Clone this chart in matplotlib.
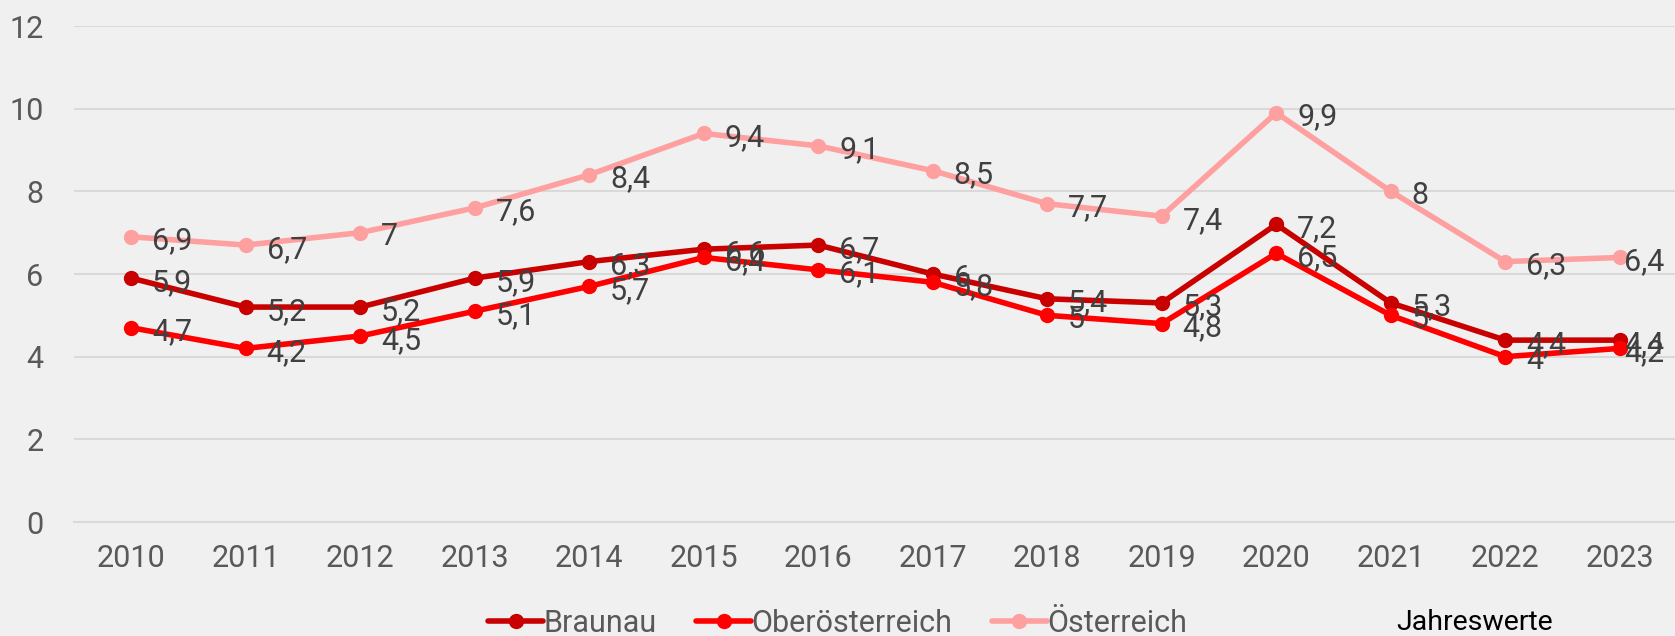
import matplotlib.pyplot as plt

# Daten
jahre = ['2010', '2011', '2012', '2013', '2014', '2015', '2016',
         '2017', '2018', '2019', '2020', '2021', '2022', '2023']
braunau = [5.9, 5.2, 5.2, 5.9, 6.3, 6.6, 6.7, 6.0, 5.4, 5.3, 7.2, 5.3, 4.4, 4.4]
ooe = [4.7, 4.2, 4.5, 5.1, 5.7, 6.4, 6.1, 5.8, 5.0, 4.8, 6.5, 5.0, 4.0, 4.2]
oesterreich = [6.9, 6.7, 7.0, 7.6, 8.4, 9.4, 9.1, 8.5, 7.7, 7.4, 9.9, 8.0, 6.3, 6.4]
serien = [('Braunau', braunau, '#C80000'),
          ('Oberösterreich', ooe, '#FF0000'),
          ('Österreich', oesterreich, '#FFA0A0')]
y_ticks = [0, 2, 4, 6, 8, 10, 12]

bg = '#F0F0F0'
plt.rcParams['font.family'] = ['Roboto', 'DejaVu Sans']


def fmt(v):
    s = f'{v:.1f}'.replace('.', ',')
    return s[:-2] if s.endswith(',0') else s


W, H = 1675, 636
fig = plt.figure(figsize=(W / 100, H / 100), dpi=100, facecolor=bg)
ax = fig.add_axes([74 / W, 1 - 522 / H, 1603 / W, (522 - 26) / H])
ax.set_facecolor(bg)

x = list(range(len(jahre)))
for name, vals, col in serien:
    ax.plot(x, vals, color=col, lw=4, marker='o', ms=10, label=name,
            solid_capstyle='round', zorder=3)
    for xi, v in zip(x, vals):
        # letzter Punkt: Beschriftung bleibt im Bild
        dx = 3 if xi == x[-1] else 15
        ax.annotate(fmt(v), (xi, v), xytext=(dx, -3), textcoords='offset points',
                    va='center', ha='left', fontsize=22, color='#404040', zorder=4)

ax.set_ylim(0, 12)
ax.set_yticks(y_ticks)
ax.set_xlim(-0.5, 13.5)
ax.set_xticks(x)
ax.set_xticklabels(jahre)
ax.grid(axis='y', color='#D9D9D9', lw=1.5)
ax.set_axisbelow(True)
for s in ax.spines.values():
    s.set_visible(False)
ax.tick_params(axis='both', length=0, labelsize=22, labelcolor='#595959')
ax.tick_params(axis='y', pad=22)
ax.tick_params(axis='x', pad=16)
ax.spines['bottom'].set_visible(True)
ax.spines['bottom'].set_color('#D9D9D9')
ax.spines['bottom'].set_linewidth(1.5)

fig.legend(loc='center', bbox_to_anchor=(0.5, 1 - 623 / H), ncol=3, frameon=False,
           fontsize=22, labelcolor='#595959', handlelength=1.8, handletextpad=0.0,
           columnspacing=1.3, borderpad=0)
fig.text(1475 / W, 1 - 623 / H, 'Jahreswerte', ha='center', va='center',
         fontsize=20.5, color='black')

fig.savefig('out.png', dpi=100, facecolor=bg)
